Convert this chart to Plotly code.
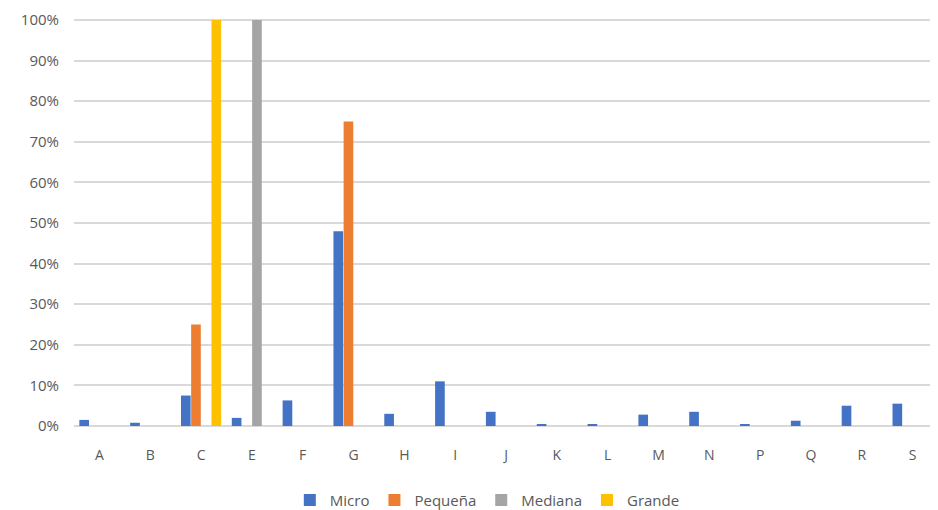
import plotly.graph_objects as go

categories = ["A", "B", "C", "E", "F", "G", "H", "I", "J", "K", "L", "M", "N", "P", "Q", "R", "S"]
micro =   [1.5, 0.8, 7.5, 2.0, 6.3, 48.0, 3.0, 11.0, 3.5, 0.5, 0.5, 2.8, 3.5, 0.5, 1.3, 5.0, 5.5]
pequena = [0, 0, 25.0, 0, 0, 75.0, 0, 0, 0, 0, 0, 0, 0, 0, 0, 0, 0]
mediana = [0, 0, 0, 100.0, 0, 0, 0, 0, 0, 0, 0, 0, 0, 0, 0, 0, 0]
grande =  [0, 0, 100.0, 0, 0, 0, 0, 0, 0, 0, 0, 0, 0, 0, 0, 0, 0]
tick_vals = [0, 10, 20, 30, 40, 50, 60, 70, 80, 90, 100]
tick_text = [f"{v}%" for v in tick_vals]

series = [("Micro", micro, "#4472C4"), ("Pequeña", pequena, "#ED7D31"),
          ("Mediana", mediana, "#A5A5A5"), ("Grande", grande, "#FFC000")]

fig = go.Figure()
for name, vals, col in series:
    fig.add_trace(go.Bar(x=categories, y=vals, name=name, marker_color=col,
                         marker_line_width=0))

fig.update_layout(
    width=938, height=510,
    margin=dict(l=66, r=8, t=10, b=92),
    paper_bgcolor="white", plot_bgcolor="white",
    barmode="group", bargap=0.2, bargroupgap=0.05,
    font=dict(family="Open Sans, sans-serif", size=14, color="#595959"),
    showlegend=True,
    legend=dict(orientation="h", xref="container", yref="container",
                x=0.511, xanchor="center", y=0.035, yanchor="middle",
                font=dict(size=15, color="#595959"), itemwidth=30, traceorder="normal"),
    xaxis=dict(showgrid=False, showline=False, ticks="", tickfont=dict(size=14),
               ticklabelstandoff=19, automargin=False),
    yaxis=dict(range=[0, 100.5], tickvals=tick_vals, ticktext=tick_text,
               showgrid=True, gridcolor="#D9D9D9", gridwidth=1.5, zeroline=True,
               zerolinecolor="#D9D9D9", zerolinewidth=1.5, showline=False,
               ticks="", ticklabelstandoff=14, tickfont=dict(size=15), automargin=False),
)

fig.write_html("out.html")
